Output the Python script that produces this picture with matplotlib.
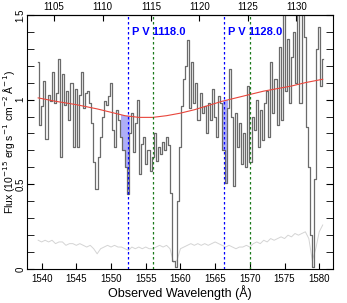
import numpy as np
import matplotlib
matplotlib.use('Agg')
import matplotlib.pyplot as plt
from matplotlib.ticker import MultipleLocator

plt.rcParams['font.family'] = ['Liberation Sans', 'DejaVu Sans']

# observed-frame spectrum, 0.3 A bins starting at 1539.5
wave_start = 1539.5
wave_step = 0.3
flux = [
    1.22, 0.85, 0.96, 1.11, 0.77, 1.03, 0.99, 1.16, 0.98, 1.04,
    1.24, 0.66, 1.15, 0.97, 1.05, 0.88, 1.10, 0.72, 1.06, 0.72,
    1.03, 1.16, 0.95, 1.04, 1.05, 0.98, 0.86, 0.63, 0.47, 0.66,
    0.78, 0.90, 0.99, 0.97, 1.02, 1.10, 0.82, 0.72, 0.94, 0.88,
    0.78, 0.70, 0.60, 0.44, 0.80, 0.92, 0.69, 0.86, 1.00, 0.56,
    0.74, 0.78, 0.62, 0.70, 0.58, 0.66, 0.80, 0.64, 0.72, 0.68,
    0.75, 0.70, 0.78, 0.73, 0.45, 0.05, 0.01, 0.40, 0.72, 0.96,
    1.12, 1.20, 1.35, 0.95, 1.22, 0.98, 1.10, 0.88, 1.04, 0.92,
    0.96, 0.80, 0.98, 0.88, 1.06, 0.90, 0.78, 1.02, 0.98, 0.70,
    0.51, 0.95, 1.18, 0.90, 0.49, 0.92, 0.72, 0.86, 0.62, 0.80,
    0.60, 1.08, 0.63, 0.90, 0.82, 1.00, 0.72, 0.94, 0.76, 0.98,
    1.05, 0.78, 1.22, 0.92, 1.12, 0.85, 1.31, 0.88, 1.55, 1.05,
    1.36, 0.98, 1.25, 1.40, 1.10, 1.55, 0.98, 1.55, 1.37, 0.84,
    0.60, 0.20, 0.01, 0.53, 1.30, 1.43, 1.08, 1.24,
]

# error spectrum, 0.5 A bins starting at 1539.5
err_start = 1539.5
err_step = 0.5
err = [
    0.17, 0.16, 0.17, 0.16, 0.17, 0.15, 0.16, 0.16, 0.14, 0.15,
    0.15, 0.14, 0.15, 0.14, 0.13, 0.14, 0.12, 0.09, 0.12, 0.13,
    0.14, 0.13, 0.14, 0.13, 0.13, 0.12, 0.11, 0.13, 0.12, 0.13,
    0.12, 0.13, 0.12, 0.12, 0.13, 0.14, 0.13, 0.14, 0.12, 0.04,
    0.05, 0.12, 0.13, 0.14, 0.15, 0.14, 0.15, 0.14, 0.15, 0.14,
    0.15, 0.16, 0.15, 0.14, 0.13, 0.14, 0.13, 0.12, 0.13, 0.13,
    0.14, 0.13, 0.15, 0.16, 0.15, 0.17, 0.16, 0.18, 0.17, 0.18,
    0.19, 0.18, 0.20, 0.19, 0.21, 0.20, 0.21, 0.22, 0.18, 0.05,
    0.12, 0.22, 0.26,
]

# continuum fit
cont_wave = [1539.5, 1542, 1545, 1548, 1550, 1552, 1554, 1556, 1558, 1560,
             1562, 1564, 1566, 1568, 1570, 1572, 1574, 1576, 1578, 1580.5]
cont_flux = [1.01, 0.99, 0.97, 0.945, 0.925, 0.905, 0.895, 0.895, 0.905, 0.92,
             0.94, 0.965, 0.99, 1.01, 1.03, 1.05, 1.065, 1.08, 1.10, 1.12]

# absorption lines (observed wavelength)
pv_obs = [1552.5, 1566.3]
pv_labels = ['P V 1118.0', 'P V 1128.0']
other_obs = [1556.1, 1570.0]
shade_windows = [(1551.3, 1552.7), (1566.1, 1566.8)]

zfac = 1.3953  # observed / rest for top axis
rest_ticks = [1105, 1110, 1115, 1120, 1125, 1130]

wave = wave_start + wave_step * np.arange(len(flux))
flux = np.array(flux)
err_wave = err_start + err_step * np.arange(len(err))

fig = plt.figure(figsize=(3.47, 3.03), dpi=100)
ax = fig.add_axes([0.078, 0.112, 0.882, 0.839])

ax.plot(err_wave, err, color='0.83', lw=0.7)
ax.plot(wave, flux, color='0.42', lw=0.9, drawstyle='steps-mid')

cont_at_wave = np.interp(wave, cont_wave, cont_flux)
for lo, hi in shade_windows:
    sel = (wave >= lo) & (wave <= hi)
    ax.fill_between(wave, flux, cont_at_wave, where=sel & (flux < cont_at_wave),
                    step='mid', color='#8c8cf5', alpha=0.7, lw=0)

ax.plot(cont_wave, cont_flux, color='#e8463c', lw=0.8)

for w, lab in zip(pv_obs, pv_labels):
    ax.axvline(w, color='blue', ls=(0, (2, 2)), lw=0.9)
    ax.text(w + 0.55, 1.40, lab, color='blue', fontsize=8, fontweight='bold',
            ha='left', va='center')
for w in other_obs:
    ax.axvline(w, color='#1a7a1a', ls=(0, (2, 2)), lw=0.9)

ax.set_xlim(1537.9, 1582.0)
ax.set_ylim(0, 1.5)
ax.xaxis.set_major_locator(MultipleLocator(5))
ax.yaxis.set_minor_locator(MultipleLocator(0.1))
ax.set_yticks([0, 0.5, 1, 1.5])
ax.set_yticklabels(['0', '0.5', '1', '1.5'])
ax.tick_params(axis='both', which='both', direction='in', labelsize=7)
ax.tick_params(axis='y', which='both', right=True, length=5, pad=1)
ax.tick_params(axis='x', which='major', length=4)
for lab in ax.get_yticklabels():
    lab.set_rotation(90)
    lab.set_va('center')

sec = ax.secondary_xaxis('top', functions=(lambda w: w / zfac, lambda w: w * zfac))
sec.set_xticks(rest_ticks)
sec.set_xticklabels([str(t) for t in rest_ticks])
sec.tick_params(direction='in', labelsize=7, length=4, pad=2)

ax.set_xlabel('Observed Wavelength (Å)', fontsize=9, labelpad=1)
ax.set_ylabel('Flux (10$^{-15}$ erg s$^{-1}$ cm$^{-2}$ Å$^{-1}$)', fontsize=7.5)
ax.yaxis.set_label_coords(-0.034, 0.5)

fig.savefig('out.png', dpi=100)
